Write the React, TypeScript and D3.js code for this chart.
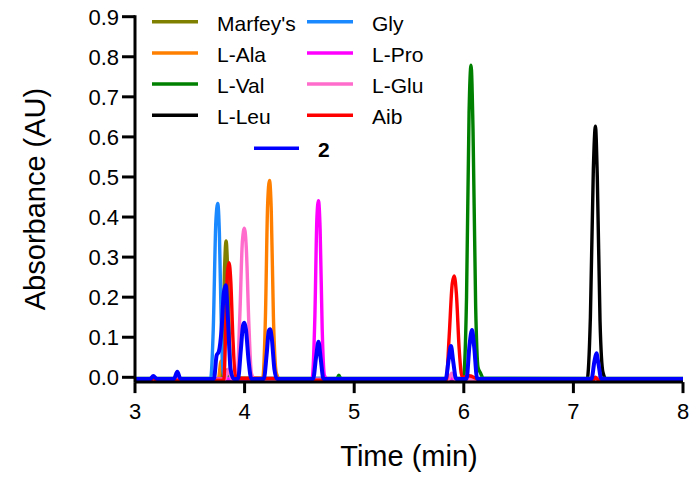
import * as d3 from "d3";
import React from "react";

// tick labels
const xTicks = [3, 4, 5, 6, 7, 8];
const yTicks = [0, 0.1, 0.2, 0.3, 0.4, 0.5, 0.6, 0.7, 0.8, 0.9];

// chromatograms: [time (min), absorbance (AU)]
const marfeys: [number, number][] = [
  [3, -0.003], [3.785, -0.003], [3.802, 0.08], [3.816, 0.26], [3.831, 0.34],
  [3.845, 0.27], [3.858, 0.12], [3.875, 0.01], [3.9, -0.003], [8, -0.003],
];
const lAla: [number, number][] = [
  [3, -0.004], [3.76, -0.004], [3.785, 0.04], [3.8, 0.03], [3.83, 0.0],
  [4.165, -0.002], [4.19, 0.15], [4.21, 0.43], [4.227, 0.491], [4.243, 0.42],
  [4.263, 0.15], [4.29, 0.01], [4.32, -0.004], [8, -0.004],
];
const lVal: [number, number][] = [
  [3, -0.004], [3.8, -0.004], [3.83, 0.018], [3.86, -0.004], [4.84, -0.004],
  [4.86, 0.005], [4.88, -0.004], [5.995, -0.004], [6.025, 0.2], [6.048, 0.66],
  [6.066, 0.779], [6.084, 0.62], [6.108, 0.18], [6.13, 0.025], [6.15, 0.012],
  [6.18, -0.003], [8, -0.004],
];
const lLeu: [number, number][] = [
  [3, -0.005], [7.125, -0.005], [7.155, 0.15], [7.182, 0.52], [7.201, 0.627],
  [7.218, 0.5], [7.243, 0.14], [7.27, 0.012], [7.3, -0.005], [8, -0.005],
];
const gly: [number, number][] = [
  [3, -0.003], [3.69, -0.003], [3.714, 0.12], [3.738, 0.39], [3.755, 0.434],
  [3.77, 0.36], [3.788, 0.12], [3.806, 0.01], [3.83, -0.003], [8, -0.003],
];
const lPro: [number, number][] = [
  [3, -0.004], [4.615, -0.004], [4.641, 0.15], [4.66, 0.4], [4.674, 0.441],
  [4.689, 0.37], [4.708, 0.12], [4.728, 0.005], [4.75, -0.004], [8, -0.004],
];
const lGlu: [number, number][] = [
  [3, -0.005], [3.82, -0.005], [3.85, 0.02], [3.88, -0.003], [3.93, -0.003],
  [3.956, 0.15], [3.98, 0.34], [3.998, 0.372], [4.016, 0.32], [4.038, 0.14],
  [4.062, 0.01], [4.09, -0.005], [5.86, -0.005], [5.89, 0.01], [5.92, -0.005], [8, -0.005],
];
const aib: [number, number][] = [
  [3, -0.007], [3.15, -0.007], [3.17, -0.002], [3.19, -0.007], [3.81, -0.007],
  [3.828, 0.12], [3.843, 0.26], [3.858, 0.286], [3.874, 0.24], [3.893, 0.1],
  [3.915, 0.005], [3.95, -0.003], [4.3, -0.003], [4.4, -0.007], [5.84, -0.007],
  [5.866, 0.1], [5.895, 0.235], [5.913, 0.253], [5.932, 0.21], [5.958, 0.07],
  [5.985, 0.0], [6.05, 0.004], [6.15, -0.007], [7.18, -0.007], [7.2, 0.0],
  [7.23, -0.007], [8, -0.007],
];
const cmpd2: [number, number][] = [
  [3, -0.004], [3.14, -0.004], [3.167, 0.003], [3.2, -0.004], [3.355, -0.004],
  [3.386, 0.014], [3.415, -0.004], [3.72, -0.004], [3.745, 0.055], [3.765, 0.064],
  [3.79, 0.12], [3.81, 0.21], [3.828, 0.23], [3.847, 0.15], [3.872, 0.02],
  [3.9, -0.004], [3.94, -0.004], [3.966, 0.07], [3.986, 0.13], [3.998, 0.136],
  [4.012, 0.12], [4.037, 0.04], [4.062, -0.004], [4.175, -0.004], [4.202, 0.06],
  [4.22, 0.115], [4.233, 0.12], [4.247, 0.1], [4.272, 0.02], [4.295, -0.004],
  [4.625, -0.004], [4.652, 0.05], [4.674, 0.089], [4.695, 0.045], [4.72, -0.004],
  [5.835, -0.004], [5.862, 0.045], [5.883, 0.078], [5.903, 0.04], [5.93, -0.004],
  [6.025, -0.004], [6.052, 0.08], [6.075, 0.118], [6.095, 0.075], [6.122, -0.004],
  [7.165, -0.004], [7.192, 0.04], [7.21, 0.06], [7.228, 0.035], [7.255, -0.004],
  [8, -0.004],
];

const seriesNames = ["Marfey's", "L-Ala", "L-Val", "L-Leu", "Gly", "L-Pro", "L-Glu", "Aib", "2"];
const seriesData = [marfeys, lAla, lVal, lLeu, gly, lPro, lGlu, aib, cmpd2];
const seriesColors = ["#808000", "#ff8000", "#008000", "#000000", "#1a88ff", "#ff00ff", "#ff6ccb", "#ff0000", "#0000ff"];

const font = "Liberation Sans, Arial, sans-serif";

export default function App() {
  const width = 700;
  const height = 486;

  const x = d3.scaleLinear().domain([3, 8]).range([135, 683]);
  const y = d3.scaleLinear().domain([0, 0.9]).range([377.3, 16.7]);
  const axisY = y(-0.012);

  const line = d3.line<[number, number]>()
    .x(d => x(d[0]))
    .y(d => y(d[1]))
    .curve(d3.curveMonotoneX);

  // legend layout: two columns of four, then compound 2 below
  const legendRows = seriesNames.slice(0, 8).map((name, i) => ({
    name,
    color: seriesColors[i],
    col: Math.floor(i / 4),
    row: i % 4,
  }));

  return (
    <svg width={width} height={height} style={{ position: "absolute", left: 0, top: 0, background: "#fff" }}>
      {seriesData.map((d, i) => (
        <path key={seriesNames[i]} d={line(d) || ""} fill="none"
          stroke={seriesColors[i]} strokeWidth={i === 8 ? 4 : 3.4} strokeLinejoin="round" />
      ))}

      {/* axes */}
      <g stroke="#000" strokeWidth={3} fill="none">
        <line x1={x(3)} x2={x(3)} y1={y(0.9) - 1.5} y2={axisY} />
        <line x1={x(3)} x2={x(8)} y1={axisY} y2={axisY} />
        {yTicks.map(t => (
          <line key={"yt" + t} x1={x(3) - 13} x2={x(3)} y1={y(t)} y2={y(t)} />
        ))}
        {xTicks.map(t => (
          <line key={"xt" + t} x1={x(t)} x2={x(t)} y1={axisY} y2={axisY + 11} />
        ))}
      </g>
      <g fontFamily={font} fontSize={22} fill="#000">
        {yTicks.map(t => (
          <text key={"yl" + t} x={119} y={y(t) + 7.8} textAnchor="end">{t.toFixed(1)}</text>
        ))}
        {xTicks.map(t => (
          <text key={"xl" + t} x={x(t)} y={418.5} textAnchor="middle">{t}</text>
        ))}
      </g>
      <text x={409} y={466} textAnchor="middle" fontFamily={font} fontSize={29}>Time (min)</text>
      <text transform="translate(45,199) rotate(-90)" textAnchor="middle" fontFamily={font} fontSize={29}>Absorbance (AU)</text>

      {/* legend */}
      <g fontFamily={font} fontSize={21}>
        {legendRows.map(r => {
          const ly = 21.7 + r.row * 31.2;
          const lx = r.col === 0 ? 152 : 307;
          return (
            <g key={r.name}>
              <line x1={lx} x2={lx + 46} y1={ly} y2={ly} stroke={r.color} strokeWidth={3.5} />
              <text x={lx + 65} y={ly + 9}>{r.name}</text>
            </g>
          );
        })}
        <line x1={254} x2={299} y1={148.3} y2={148.3} stroke={seriesColors[8]} strokeWidth={3.5} />
        <text x={318} y={157.3} fontWeight="bold">{seriesNames[8]}</text>
      </g>
    </svg>
  );
}
